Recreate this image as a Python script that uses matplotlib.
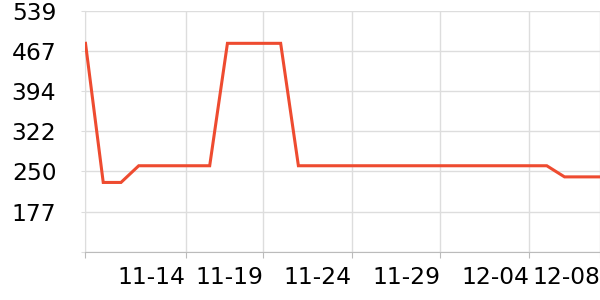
import matplotlib
matplotlib.use("Agg")
import matplotlib.pyplot as plt

# data: one value per day, 11-09 .. 12-08
values = [480, 230, 230, 260, 260, 260, 260, 260, 480, 480,
          480, 480, 260, 260, 260, 260, 260, 260, 260, 260,
          260, 260, 260, 260, 260, 260, 260, 240, 240, 240]
tick_positions = [5.64, 10, 15, 20, 25, 29]
tick_labels = ["11-14", "11-19", "11-24", "11-29", "12-04", "12-08"]
y_ticks = [105, 177.33, 249.67, 322, 394.33, 466.67, 539]
y_labels = ["", "177", "250", "322", "394", "467", "539"]

fig = plt.figure(figsize=(6, 3), dpi=100)
ax = fig.add_axes([85.5/600, 48/300, 1 - 85.5/600, (252 - 10.5)/300])

x = list(range(len(values)))
ax.plot(x, values, color="#ee4b30", linewidth=2.2, solid_joinstyle="miter", zorder=3)

ax.set_xlim(0, len(values) - 1)
ax.set_ylim(y_ticks[0], y_ticks[-1])
ax.set_yticks(y_ticks)
ax.set_yticklabels(y_labels)
ax.set_xticks([0] + tick_positions)
ax.set_xticklabels([""] + tick_labels)
for lab in ax.get_xticklabels():
    lab.set_horizontalalignment("right")

ax.grid(True, color="#dddddd", linewidth=1)
ax.set_axisbelow(True)
for s in ["top", "right"]:
    ax.spines[s].set_visible(False)
ax.spines["left"].set_color("#dddddd")
ax.spines["bottom"].set_color("#bbbbbb")
ax.tick_params(axis="y", length=3, color="#dddddd", pad=18, labelsize=16.8)
ax.tick_params(axis="x", length=4, color="#bbbbbb", pad=6, labelsize=16.8)

fig.savefig("out.png", dpi=100)
